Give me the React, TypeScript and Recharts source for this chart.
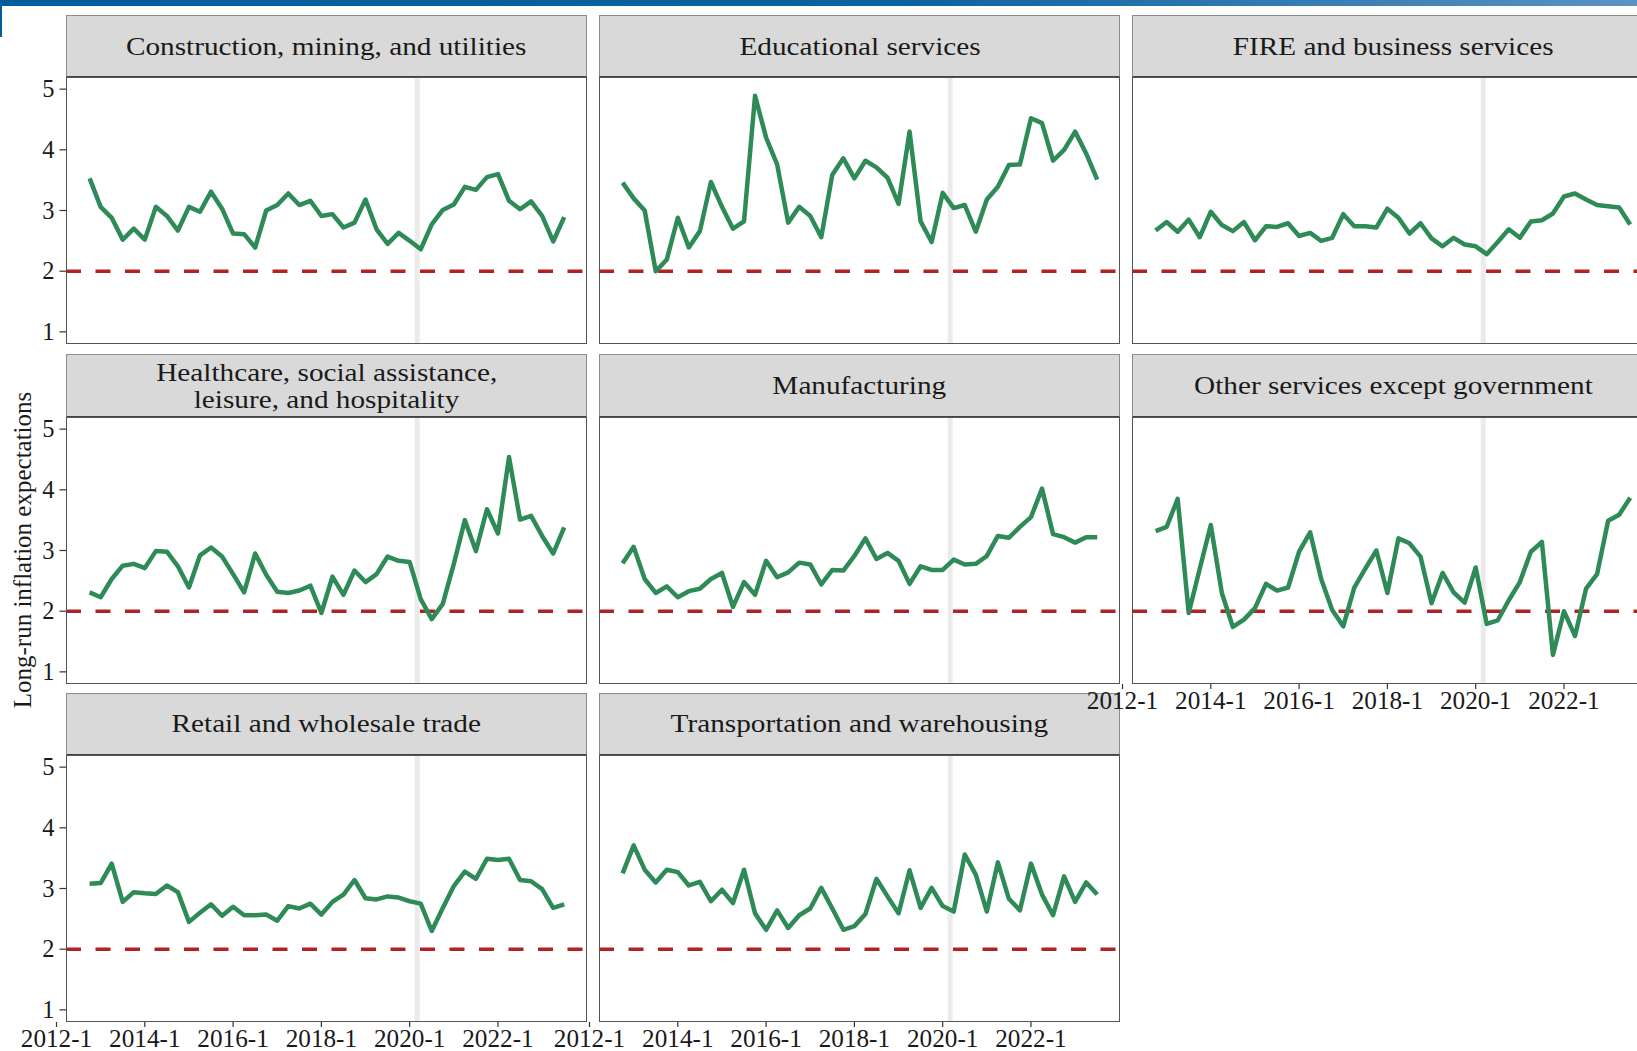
import React from 'react';
import { LineChart, Line, XAxis, YAxis, ReferenceLine } from 'recharts';

// quarterly survey dates, 2012Q4 - 2023Q3
const quarters = [
  '2012Q4',
  '2013Q1', '2013Q2', '2013Q3', '2013Q4',
  '2014Q1', '2014Q2', '2014Q3', '2014Q4',
  '2015Q1', '2015Q2', '2015Q3', '2015Q4',
  '2016Q1', '2016Q2', '2016Q3', '2016Q4',
  '2017Q1', '2017Q2', '2017Q3', '2017Q4',
  '2018Q1', '2018Q2', '2018Q3', '2018Q4',
  '2019Q1', '2019Q2', '2019Q3', '2019Q4',
  '2020Q1', '2020Q2', '2020Q3', '2020Q4',
  '2021Q1', '2021Q2', '2021Q3', '2021Q4',
  '2022Q1', '2022Q2', '2022Q3', '2022Q4',
  '2023Q1', '2023Q2', '2023Q3',
];

const construction = [3.53, 3.06, 2.88, 2.52, 2.70, 2.52, 3.06, 2.91, 2.67, 3.06, 2.98, 3.31, 3.03, 2.62, 2.61, 2.39, 3.00, 3.09, 3.28, 3.09, 3.16, 2.91, 2.94, 2.72, 2.80, 3.18, 2.69, 2.45, 2.63, 2.50, 2.36, 2.77, 3.01, 3.10, 3.39, 3.34, 3.55, 3.60, 3.16, 3.02, 3.15, 2.91, 2.49, 2.89];
const educational = [3.46, 3.20, 3.00, 2.00, 2.19, 2.88, 2.39, 2.66, 3.47, 3.06, 2.70, 2.82, 4.89, 4.20, 3.76, 2.80, 3.06, 2.91, 2.56, 3.59, 3.86, 3.53, 3.82, 3.71, 3.54, 3.11, 4.30, 2.82, 2.48, 3.29, 3.04, 3.09, 2.65, 3.18, 3.39, 3.75, 3.76, 4.52, 4.44, 3.82, 4.00, 4.30, 3.94, 3.51];
const fire = [2.67, 2.81, 2.65, 2.85, 2.56, 2.98, 2.76, 2.66, 2.81, 2.51, 2.74, 2.73, 2.79, 2.58, 2.63, 2.50, 2.55, 2.94, 2.74, 2.74, 2.72, 3.03, 2.88, 2.62, 2.79, 2.54, 2.41, 2.55, 2.44, 2.41, 2.28, 2.48, 2.69, 2.55, 2.82, 2.84, 2.95, 3.23, 3.28, 3.18, 3.09, 3.07, 3.05, 2.77];
const healthcare = [2.31, 2.23, 2.53, 2.75, 2.78, 2.71, 2.99, 2.98, 2.74, 2.39, 2.92, 3.05, 2.90, 2.61, 2.31, 2.95, 2.60, 2.32, 2.30, 2.34, 2.42, 1.97, 2.57, 2.27, 2.67, 2.48, 2.61, 2.90, 2.83, 2.81, 2.20, 1.87, 2.12, 2.78, 3.50, 2.99, 3.68, 3.28, 4.54, 3.51, 3.57, 3.24, 2.95, 3.38];
const manufacturing = [2.79, 3.06, 2.53, 2.30, 2.41, 2.23, 2.33, 2.37, 2.53, 2.63, 2.07, 2.48, 2.27, 2.83, 2.56, 2.64, 2.80, 2.77, 2.44, 2.68, 2.67, 2.91, 3.20, 2.86, 2.96, 2.83, 2.45, 2.74, 2.68, 2.68, 2.85, 2.77, 2.78, 2.91, 3.24, 3.21, 3.39, 3.55, 4.02, 3.27, 3.22, 3.13, 3.22, 3.22];
const otherServices = [3.32, 3.39, 3.85, 1.97, 2.70, 3.42, 2.30, 1.74, 1.86, 2.05, 2.45, 2.34, 2.39, 2.98, 3.30, 2.53, 2.02, 1.75, 2.39, 2.70, 3.00, 2.30, 3.20, 3.12, 2.90, 2.13, 2.63, 2.31, 2.14, 2.72, 1.79, 1.85, 2.18, 2.48, 2.98, 3.14, 1.28, 2.00, 1.59, 2.37, 2.61, 3.49, 3.59, 3.87];
const retail = [3.08, 3.09, 3.41, 2.78, 2.94, 2.92, 2.91, 3.05, 2.94, 2.45, 2.60, 2.74, 2.55, 2.70, 2.56, 2.56, 2.57, 2.47, 2.71, 2.67, 2.75, 2.57, 2.78, 2.90, 3.14, 2.84, 2.82, 2.87, 2.85, 2.79, 2.75, 2.30, 2.68, 3.04, 3.28, 3.16, 3.49, 3.47, 3.49, 3.14, 3.12, 2.99, 2.68, 2.74];
const transport = [3.25, 3.71, 3.31, 3.10, 3.31, 3.27, 3.05, 3.11, 2.79, 2.98, 2.76, 3.31, 2.59, 2.32, 2.64, 2.35, 2.56, 2.67, 3.01, 2.67, 2.32, 2.38, 2.58, 3.16, 2.87, 2.59, 3.30, 2.68, 3.01, 2.71, 2.62, 3.56, 3.23, 2.62, 3.43, 2.83, 2.64, 3.41, 2.90, 2.56, 3.20, 2.78, 3.10, 2.90];

const xTicks = [2012, 2014, 2016, 2018, 2020, 2022];
const yTicks = [1, 2, 3, 4, 5];
const target = 2;
const covidMark = 2020.17;

const panels = [
  { title: ['Construction, mining, and utilities'], values: construction },
  { title: ['Educational services'], values: educational },
  { title: ['FIRE and business services'], values: fire },
  { title: ['Healthcare, social assistance,', 'leisure, and hospitality'], values: healthcare },
  { title: ['Manufacturing'], values: manufacturing },
  { title: ['Other services except government'], values: otherServices },
  { title: ['Retail and wholesale trade'], values: retail },
  { title: ['Transportation and warehousing'], values: transport },
];

// layout (px)
const COL_LEFT = [65.8, 598.9, 1132.2];
const PANEL_TOP = [77.3, 416.7, 755];
const PANEL_W = 521.6;
const PANEL_H = 267;
const STRIP_H = 62.3;
const LEFT_PAD = 100;
const TOP_PAD = 15;
const Y_AXIS_W = 60;
const X_AXIS_H = 45;
const TICK_FS = 24.5;
const FONT = "'Liberation Serif', 'Times New Roman', serif";
const TEXT = '#1a1a1a';

const toYear = (q: string) => Number(q.slice(0, 4)) + (Number(q.slice(5)) - 1) / 4;

const XTick = ({ x, y, payload }: any) => (
  <g transform={`translate(${x},${y})`}>
    <text dy={18.3} textAnchor="middle" fontSize={TICK_FS} fontFamily={FONT} fill={TEXT} transform="scale(1.03,1)">
      {`${payload.value}-1`}
    </text>
  </g>
);

const YTick = ({ x, y, payload }: any) => (
  <text x={x} y={y} dy={8.2} textAnchor="end" fontSize={TICK_FS} fontFamily={FONT} fill={TEXT}>
    {payload.value}
  </text>
);

function Strip({ idx }: { idx: number }) {
  const p = panels[idx];
  const left = COL_LEFT[idx % 3];
  const top = PANEL_TOP[Math.floor(idx / 3)];
  return (
    <div
      style={{
        position: 'absolute',
        left,
        top: top - STRIP_H,
        width: PANEL_W,
        height: STRIP_H,
        boxSizing: 'border-box',
        background: '#d9d9d9',
        border: '1px solid #8c8c8c',
        borderBottom: '1.5px solid #444',
        display: 'flex',
        flexDirection: 'column',
        alignItems: 'center',
        justifyContent: 'center',
        fontFamily: FONT,
        fontSize: 25,
        color: TEXT,
        lineHeight: '27px',
      }}
    >
      {p.title.map((t) => (
        <span key={t} style={{ display: 'block', transform: 'scaleX(1.17)', whiteSpace: 'nowrap' }}>{t}</span>
      ))}
    </div>
  );
}

function Panel({ idx }: { idx: number }) {
  const p = panels[idx];
  const col = idx % 3;
  const row = Math.floor(idx / 3);
  const showY = col === 0;
  const showX = idx >= 5; // bottom panel of each column
  const left = COL_LEFT[col];
  const top = PANEL_TOP[row];
  const data = quarters.map((q, i) => ({ t: toYear(q), v: p.values[i] }));

  return (
    <>
      <div style={{ position: 'absolute', left: left - LEFT_PAD, top: top - TOP_PAD }}>
        <LineChart
          width={PANEL_W + LEFT_PAD}
          height={TOP_PAD + PANEL_H + (showX ? X_AXIS_H : 0)}
          data={data}
          margin={{ top: TOP_PAD, right: 0, bottom: 0, left: showY ? LEFT_PAD - Y_AXIS_W : LEFT_PAD }}
        >
          <XAxis
            dataKey="t"
            type="number"
            domain={[2012.215, 2024.03]}
            allowDataOverflow
            ticks={xTicks}
            interval={0}
            hide={!showX}
            height={showX ? X_AXIS_H : 0}
            axisLine={false}
            tickSize={5}
            tickMargin={2}
            tickLine={{ stroke: '#333', strokeWidth: 1.2 }}
            tick={(props: any) => <XTick {...props} />}
          />
          <YAxis
            type="number"
            domain={[0.8, 5.2]}
            allowDataOverflow
            ticks={yTicks}
            interval={0}
            width={Y_AXIS_W}
            hide={!showY}
            axisLine={false}
            tickSize={6.5}
            tickMargin={5}
            tickLine={{ stroke: '#333', strokeWidth: 1.2 }}
            tick={(props: any) => <YTick {...props} />}
          />
          <ReferenceLine x={covidMark} stroke="#ebebeb" strokeWidth={5} />
          <ReferenceLine y={target} stroke="#b22222" strokeWidth={3.5} strokeDasharray="15 14.5" />
          <Line
            type="linear"
            dataKey="v"
            stroke="#2e8b57"
            strokeWidth={4.5}
            strokeLinejoin="round"
            dot={false}
            activeDot={false}
            isAnimationActive={false}
          />
        </LineChart>
      </div>
      <div
        style={{
          position: 'absolute',
          left,
          top,
          width: PANEL_W,
          height: PANEL_H,
          boxSizing: 'border-box',
          border: '1.5px solid #555',
          pointerEvents: 'none',
        }}
      />
    </>
  );
}

export default function App() {
  return (
    <div
      style={{
        position: 'fixed',
        left: 0,
        top: 0,
        width: 1637,
        height: 1051,
        overflow: 'hidden',
        background: '#fff',
      }}
    >
      <div
        style={{
          position: 'absolute',
          left: 0,
          top: 0,
          width: 1637,
          height: 6,
          background: 'linear-gradient(to right, #005d9e 0%, #0a62a0 55%, #5a92c4 100%)',
        }}
      />
      <div style={{ position: 'absolute', left: 0, top: 0, width: 2, height: 37, background: '#005d9e' }} />
      {panels.map((_, i) => (
        <Strip key={`s${i}`} idx={i} />
      ))}
      {panels.map((_, i) => (
        <Panel key={`p${i}`} idx={i} />
      ))}
      <div
        style={{
          position: 'absolute',
          left: 23,
          top: 550,
          transform: 'translate(-50%, -50%) rotate(-90deg)',
          whiteSpace: 'nowrap',
          fontFamily: FONT,
          fontSize: 25,
          color: TEXT,
        }}
      >
        Long-run inflation expectations
      </div>
    </div>
  );
}
